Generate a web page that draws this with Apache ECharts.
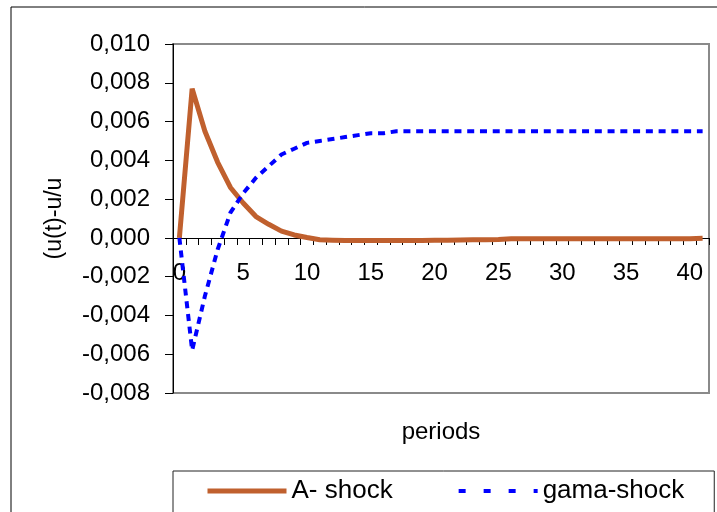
<!DOCTYPE html>
<html>
<head>
<meta charset="utf-8">
<script src="https://cdn.jsdelivr.net/npm/echarts@6/dist/echarts.min.js"></script>
<style>
  html, body { margin: 0; padding: 0; background: #fff; }
  #chart { width: 717px; height: 512px; }
</style>
</head>
<body>
<div id="chart"></div>
<script>
// Categories (periods)
const periods = ['0','1','2','3','4','5','6','7','8','9','10','11','12','13','14','15','16','17','18','19','20',
  '21','22','23','24','25','26','27','28','29','30','31','32','33','34','35','36','37','38','39','40','41'];

// A- shock
const aShock = [0, 0.0077, 0.0055, 0.0039, 0.0026, 0.0018, 0.0011, 0.0007, 0.00035, 0.00015, 0.00002,
  -0.0001, -0.00012, -0.00014, -0.00014, -0.00014, -0.00014, -0.00014, -0.00013, -0.00013, -0.00012,
  -0.00012, -0.00011, -0.0001, -0.0001, -0.00008, -0.00005, -0.00004, -0.00004, -0.00004, -0.00004,
  -0.00004, -0.00004, -0.00004, -0.00004, -0.00004, -0.00004, -0.00004, -0.00004, -0.00004, -0.00004, -0.00002];

// gama-shock
const gamaShock = [0, -0.0058, -0.0030, -0.0006, 0.0013, 0.0023, 0.0031, 0.0037, 0.0043, 0.0046, 0.0049,
  0.0050, 0.0051, 0.0052, 0.0053, 0.0054, 0.0054, 0.0055, 0.0055, 0.0055, 0.0055,
  0.0055, 0.0055, 0.0055, 0.0055, 0.0055, 0.0055, 0.0055, 0.0055, 0.0055, 0.0055,
  0.0055, 0.0055, 0.0055, 0.0055, 0.0055, 0.0055, 0.0055, 0.0055, 0.0055, 0.0055, 0.0055];

const seriesNames = ['A- shock', 'gama-shock'];
const FONT = "'Liberation Sans', Arial, sans-serif";
const BROWN = '#C0602E';
const BLUE = '#0000FF';

const chart = echarts.init(document.getElementById('chart'), null, { renderer: 'canvas' });
chart.setOption({
  animation: false,
  backgroundColor: '#fff',
  textStyle: { fontFamily: FONT, color: '#000' },
  graphic: [{
    type: 'rect',
    shape: { x: 11, y: 7, width: 800, height: 600 },
    style: { fill: 'none', stroke: '#000', lineWidth: 1 },
    z: 100
  }],
  grid: {
    left: 173, top: 44, right: 8, bottom: 119,
    outerBoundsMode: 'none',
    containLabel: false,
    show: true, borderColor: '#8a8a8a', borderWidth: 2, backgroundColor: 'transparent'
  },
  legend: {
    left: 173, top: 471,
    orient: 'horizontal',
    padding: [7, 30, 40, 32],
    itemGap: 64,
    itemWidth: 79, itemHeight: 12,
    borderColor: '#222', borderWidth: 1,
    itemStyle: { opacity: 0 },
    textStyle: { fontFamily: FONT, fontSize: 26, color: '#000' },
    data: [
      { name: seriesNames[0], itemStyle: { opacity: 0 }, lineStyle: { width: 5, color: BROWN, type: 'solid' } },
      { name: seriesNames[1], itemStyle: { opacity: 0 }, lineStyle: { width: 4, color: BLUE, type: [7, 18] } }
    ]
  },
  xAxis: {
    type: 'category',
    data: periods,
    boundaryGap: true,
    position: 'bottom',
    offset: -155,
    name: 'periods',
    nameLocation: 'middle',
    nameGap: 182,
    nameMoveOverlap: false,
    nameTextStyle: { fontFamily: FONT, fontSize: 24, color: '#000' },
    axisLine: { onZero: false, lineStyle: { color: '#000', width: 1 } },
    axisTick: { show: true, interval: 0, length: 7, lineStyle: { color: '#000' } },
    axisLabel: { interval: 4, margin: 23, fontFamily: FONT, fontSize: 24, color: '#000' },
    splitLine: { show: false }
  },
  yAxis: {
    type: 'value',
    min: -0.008, max: 0.010, interval: 0.002,
    name: '(u(t)-u/u',
    nameLocation: 'middle',
    nameRotate: 90,
    nameGap: 107,
    nameTextStyle: { fontFamily: FONT, fontSize: 23, color: '#000' },
    axisLine: { show: true, lineStyle: { color: '#000', width: 1 } },
    axisTick: { show: true, length: 8, lineStyle: { color: '#000' } },
    axisLabel: {
      margin: 23, fontFamily: FONT, fontSize: 24, color: '#000',
      formatter: v => v.toFixed(3).replace('.', ',')
    },
    splitLine: { show: false }
  },
  series: [
    {
      name: seriesNames[0], type: 'line', data: aShock,
      symbol: 'none', smooth: false,
      lineStyle: { color: BROWN, width: 5 },
      itemStyle: { color: BROWN },
      z: 3
    },
    {
      name: seriesNames[1], type: 'line', data: gamaShock,
      symbol: 'none', smooth: false,
      lineStyle: { color: BLUE, width: 4, type: [7, 5.76], cap: 'butt' },
      itemStyle: { color: BLUE },
      z: 4
    }
  ]
});
</script>
</body>
</html>
